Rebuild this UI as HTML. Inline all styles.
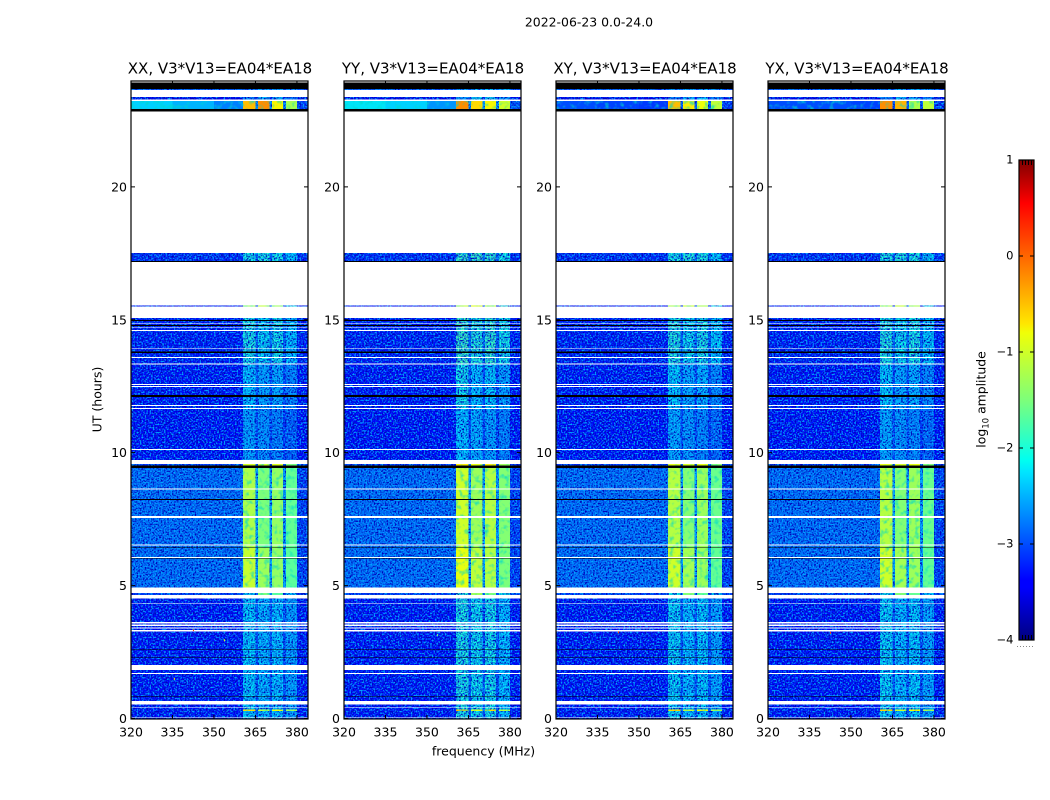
<!DOCTYPE html>
<html>
<head>
<meta charset="utf-8">
<title>2022-06-23 amplitude waterfall</title>
<style>
html,body{margin:0;padding:0;background:#fff;width:1050px;height:800px;overflow:hidden}
svg{display:block}
text{font-family:"DejaVu Sans","Liberation Sans",sans-serif;fill:#000}
</style>
</head>
<body>
<svg id="chart" xmlns="http://www.w3.org/2000/svg" width="1050" height="800" viewBox="0 0 1050 800">
<defs>
<filter id="speckle" x="0" y="0" width="1" height="1" color-interpolation-filters="sRGB">
<feTurbulence type="fractalNoise" baseFrequency="0.62" numOctaves="1" seed="4" result="n"/>
<feColorMatrix in="n" type="matrix" values="0 0 0 0 0  0 0 0 0 0  0 0 0 0 0.72  4 0 0 0 -1.7" result="darkNoise"/>
<feComposite in="darkNoise" in2="SourceAlpha" operator="in" result="dark"/>
<feColorMatrix in="n" type="matrix" values="0 0 0 0 0  0 0 0 0 0.66  0 0 0 0 1  0 4 0 0 -1.85" result="lightNoise"/>
<feComposite in="lightNoise" in2="SourceAlpha" operator="in" result="light"/>
<feMerge><feMergeNode in="SourceGraphic"/><feMergeNode in="dark"/><feMergeNode in="light"/></feMerge>
</filter>
<filter id="speckle-soft" x="0" y="0" width="1" height="1" color-interpolation-filters="sRGB">
<feTurbulence type="fractalNoise" baseFrequency="0.2" numOctaves="2" seed="9" result="n"/>
<feColorMatrix in="n" type="matrix" values="0 0 0 0 0  0 0 0 0 0.85  0 0 0 0 0.8  2.2 0 0 0 -1.1" result="softNoise"/>
<feComposite in="softNoise" in2="SourceAlpha" operator="in" result="soft"/>
<feMerge><feMergeNode in="SourceGraphic"/><feMergeNode in="soft"/></feMerge>
</filter>
<linearGradient id="jet-gradient" x1="0" y1="1" x2="0" y2="0">
<stop offset="0" stop-color="#00007f"/>
<stop offset="0.11" stop-color="#0000ff"/>
<stop offset="0.125" stop-color="#0000ff"/>
<stop offset="0.35" stop-color="#00e5ff"/>
<stop offset="0.375" stop-color="#00fff0"/>
<stop offset="0.5" stop-color="#7dff7a"/>
<stop offset="0.64" stop-color="#f0ff07"/>
<stop offset="0.66" stop-color="#ffe600"/>
<stop offset="0.89" stop-color="#ff1300"/>
<stop offset="0.91" stop-color="#ff0000"/>
<stop offset="1" stop-color="#7f0000"/>
</linearGradient>
</defs>
<text x="589" y="26.5" font-size="12.45" text-anchor="middle">2022-06-23 0.0-24.0</text>
<text x="483.5" y="755.5" font-size="12.5" text-anchor="middle">frequency (MHz)</text>
<text transform="translate(101.5,399.5) rotate(-90)" font-size="12.5" text-anchor="middle">UT (hours)</text>
<text transform="translate(985.5,399.5) rotate(-90)" font-size="12.4" text-anchor="middle">log<tspan font-size="8.6" dy="3">10</tspan><tspan dy="-3"> amplitude</tspan></text>
</svg>
<script>
// ---- chart data ----
const panelNames = ['XX', 'YY', 'XY', 'YX'];
const baselineLabel = 'V3*V13=EA04*EA18';
const xTicks = [320, 335, 350, 365, 380];
const yTicks = [0, 5, 10, 15, 20];
const colorbarTicks = [1, 0, -1, -2, -3, -4];
// frequency segment boundaries (MHz): quiet band, then four loud sub-bands with gaps
const freqEdges = [320, 360.5, 365, 366, 370, 371, 375, 376, 380, 384];
// log10 amplitude per frequency segment, one row per observing zone
const zoneSpectra = [
  null,
  [-2.9, -2.6, -2.9, -2.5, -2.9, -2.5, -2.9, -2.6, -3.0],
  [-3.5, -2.8, -3.3, -2.4, -3.3, -2.4, -3.3, -2.8, -3.5],
  null,
  [-3.2, -2.1, -2.9, -2.05, -2.9, -2.1, -2.9, -2.3, -3.2],
  [-3.4, -1.3, -3.2, -1.1, -3.2, -1.3, -3.2, -2.2, -3.4],
  [-3.3, -2.05, -2.9, -2.2, -2.8, -2.1, -2.9, -2.3, -3.3],
  [-3.35, -2.3, -3.0, -2.5, -3.05, -2.45, -3.05, -2.7, -3.35],
  [-3.4, -2.5, -3.05, -2.6, -3.05, -2.7, -3.15, -2.9, -3.4],
  [-3.1, -0.9, -2.8, -1.0, -2.8, -0.9, -2.8, -1.5, -3.1],
  [-2.8, -1.2, -2.45, -1.5, -2.45, -1.35, -2.5, -1.65, -3.1],
  [-2.8, -1.05, -2.45, -1.3, -2.45, -1.35, -2.5, -1.7, -3.1],
  [-3.35, -2.25, -3.0, -2.35, -3.0, -2.3, -3.0, -2.5, -3.35],
  [-3.3, -0.6, -2.9, -1.1, -2.9, -0.8, -2.9, -1.3, -3.3],
  [-3.1, -2.2, -2.9, -1.5, -2.9, -1.7, -3.0, -2.3, -3.1]
];
// top scan differs by polarisation
const topBandSpectra = [
  [-2.55, -0.45, -2.6, -0.2, -2.5, -0.75, -2.6, -1.25, -3.1],
  [-2.45, -0.2, -2.5, -0.6, -2.5, -0.75, -2.5, -1.0, -3.0],
  [-3.05, -0.45, -2.9, -0.7, -2.9, -0.8, -2.9, -1.1, -3.1],
  [-3.05, -0.2, -2.9, -0.4, -2.9, -1.2, -2.9, -1.1, -3.1]
];
// the quiet band of the top scan slopes with frequency
const topBandLowEdges = [320, 335, 350, 360.5];
const topBandLow = [
  [-2.35, -2.5, -2.75],
  [-2.25, -2.35, -2.65],
  [-3.0, -3.05, -3.1],
  [-3.0, -3.0, -3.05]
];
const panelColumnShift = [0, 0.2, 0.05, 0.05];
// UT scans: start hour, end hour, zone (zone 0 = flagged black; gaps are unobserved white)
const scanRows = [
  [23.70, 23.94, 0], [23.66, 23.70, 1], [23.31, 23.39, 2], [22.94, 23.25, 3], [22.85, 22.94, 0],
  [17.23, 17.53, 4], [17.19, 17.23, 0], [15.52, 15.56, 5],
  [15.01, 15.09, 6], [14.97, 15.01, 0], [14.87, 14.97, 6], [14.82, 14.85, 6], [14.78, 14.82, 0],
  [14.73, 14.78, 6], [14.63, 14.71, 6], [13.94, 14.60, 6], [13.82, 13.91, 6], [13.77, 13.82, 0],
  [13.62, 13.77, 6], [13.37, 13.58, 6], [12.60, 13.33, 7], [12.53, 12.56, 7], [12.19, 12.49, 7],
  [12.11, 12.19, 0], [11.81, 12.11, 7], [11.70, 11.77, 7], [10.16, 11.66, 8], [9.74, 10.12, 8],
  [9.53, 9.59, 9], [9.45, 9.53, 0], [8.68, 9.45, 10], [8.28, 8.63, 10], [8.24, 8.28, 0],
  [7.63, 8.24, 10], [6.57, 7.56, 10], [6.46, 6.53, 10], [6.43, 6.46, 0], [6.09, 6.43, 11],
  [6.03, 6.06, 0], [4.94, 6.03, 11], [4.66, 4.74, 14], [4.36, 4.54, 12], [3.64, 4.34, 12],
  [3.55, 3.60, 12], [3.45, 3.50, 12], [3.35, 3.41, 12], [2.62, 3.30, 12], [2.60, 2.62, 0],
  [2.32, 2.60, 12], [2.29, 2.32, 0], [2.03, 2.29, 12], [1.73, 1.84, 12], [0.87, 1.69, 12],
  [0.84, 0.87, 0], [0.68, 0.84, 12], [0.46, 0.54, 12], [0.36, 0.43, 12], [0.31, 0.36, 13],
  [0.06, 0.31, 12], [0, 0.03, 12]
];
// isolated interference spikes: panel, MHz, UT hours, log10 amplitude
const rfiSpikes = [
  [0, 342.4, 3.38, 0.3], [0, 353.6, 3.0, -0.8], [0, 335.5, 1.55, -0.7],
  [1, 353.6, 3.2, -1.4], [2, 342.4, 3.3, 0.2], [3, 342.4, 3.28, 0.2]
];

// ---- layout (not data) ----
const panelLeft = [131, 344, 556, 768];
const panelWidth = 177;
const axisTop = 81, axisBottom = 719;
const freqMin = 320, freqMax = 384, utMin = 0, utMax = 24;
const cbLeft = 1019, cbRight = 1034, cbTop = 160, cbBottom = 640;

const SVG_NS = 'http://www.w3.org/2000/svg';
const svg = document.getElementById('chart');

function make(tag, attrs, parent) {
  const el = document.createElementNS(SVG_NS, tag);
  for (const k in attrs) el.setAttribute(k, attrs[k]);
  parent.appendChild(el);
  return el;
}
function xScale(panel, mhz) {
  return panelLeft[panel] + (mhz - freqMin) / (freqMax - freqMin) * panelWidth;
}
function yScale(ut) {
  return axisBottom - (ut - utMin) / (utMax - utMin) * (axisBottom - axisTop);
}
function cbScale(v) {
  return cbBottom - (v + 4) / 5 * (cbBottom - cbTop);
}
function ramp(t, pts) {
  for (let i = 1; i < pts.length; i++) {
    if (t <= pts[i][0]) {
      const a = pts[i - 1], b = pts[i];
      return a[1] + (b[1] - a[1]) * (t - a[0]) / (b[0] - a[0]);
    }
  }
  return pts[pts.length - 1][1];
}
function jet(v) {
  const t = Math.max(0, Math.min(1, (v + 4) / 5));
  const r = ramp(t, [[0, 0], [0.35, 0], [0.66, 1], [0.89, 1], [1, 0.5]]);
  const g = ramp(t, [[0, 0], [0.125, 0], [0.375, 1], [0.64, 1], [0.91, 0], [1, 0]]);
  const b = ramp(t, [[0, 0.5], [0.11, 1], [0.34, 1], [0.65, 0], [1, 0]]);
  return 'rgb(' + Math.round(r * 255) + ',' + Math.round(g * 255) + ',' + Math.round(b * 255) + ')';
}

panelNames.forEach(function (name, p) {
  const panel = make('g', {}, svg);
  
  

  const noisy = make('g', { filter: 'url(#speckle)', 'shape-rendering': 'crispEdges' }, panel);
  
  
  const calm = make('g', { filter: 'url(#speckle-soft)', 'shape-rendering': 'crispEdges' }, panel);
  
  
  const blackRows = make('g', { 'shape-rendering': 'crispEdges' }, panel);
  
  

  scanRows.forEach(function (row) {
    const y0 = yScale(row[1]), y1 = yScale(row[0]);
    if (row[2] === 0) {
      const flagged = make('rect', { x: xScale(p, freqMin), y: y0, width: panelWidth, height: y1 - y0, fill: '#000' }, blackRows);
      
      
      return;
    }
    const spectrum = row[2] === 3 ? topBandSpectra[p] : zoneSpectra[row[2]];
    spectrum.forEach(function (val, s) {
      const v = (s % 2 === 1 && row[2] !== 3) ? val + panelColumnShift[p] : val;
      const x0 = xScale(p, freqEdges[s]), x1 = xScale(p, freqEdges[s + 1]);
      const isTopQuiet = row[2] === 3 && s === 0;
      if (isTopQuiet) return;
      const cell = make('rect', { x: x0, y: y0, width: x1 - x0, height: y1 - y0, fill: jet(v) }, v < -1.75 ? noisy : calm);
      
      
    });
    if (row[2] === 3) {
      topBandLow[p].forEach(function (v, s) {
        const x0 = xScale(p, topBandLowEdges[s]), x1 = xScale(p, topBandLowEdges[s + 1]);
        const cell = make('rect', { x: x0, y: y0, width: x1 - x0, height: y1 - y0, fill: jet(v) }, calm);
        
        
      });
    }
  });

  rfiSpikes.forEach(function (sp) {
    if (sp[0] !== p) return;
    const spike = make('rect', { x: xScale(p, sp[1]), y: yScale(sp[2]), width: 1, height: 2, fill: jet(sp[3]) }, panel);
    
    
  });

  const frame = make('rect', { x: panelLeft[p], y: axisTop, width: panelWidth, height: axisBottom - axisTop, fill: 'none', stroke: '#000', 'stroke-width': 1.2 }, panel);
  
  

  const title = make('text', { x: panelLeft[p] + panelWidth / 2 + 0.5, y: 73.5, 'font-size': 15, 'text-anchor': 'middle' }, panel);
  title.textContent = name + ', ' + baselineLabel;
  
  

  xTicks.forEach(function (t) {
    const x = xScale(p, t);
    const tickPath = make('path', { d: 'M' + x + ' ' + axisBottom + 'v-4M' + x + ' ' + axisTop + 'v4', stroke: '#000', 'stroke-width': 1, fill: 'none' }, panel);
    
    
    const label = make('text', { x: x, y: 736.5, 'font-size': 12.5, 'text-anchor': 'middle' }, panel);
    label.textContent = t;
    
    
  });
  yTicks.forEach(function (t) {
    const y = yScale(t) - 0.5;
    const l = panelLeft[p], r = l + panelWidth;
    const tickPath = make('path', { d: 'M' + l + ' ' + y + 'h4M' + r + ' ' + y + 'h-4', stroke: '#000', 'stroke-width': 1, fill: 'none' }, panel);
    
    
    const label = make('text', { x: l - 4, y: y + 4.5, 'font-size': 12.5, 'text-anchor': 'end' }, panel);
    label.textContent = t;
    
    
  });
});

// ---- colorbar ----
const colorbar = make('g', {}, svg);


const cbRect = make('rect', { x: cbLeft, y: cbTop, width: cbRight - cbLeft, height: cbBottom - cbTop, fill: 'url(#jet-gradient)', stroke: '#000', 'stroke-width': 1.2 }, colorbar);


colorbarTicks.forEach(function (t) {
  const y = cbScale(t);
  const tick = make('path', { d: 'M' + cbLeft + ' ' + y + 'h4M' + cbRight + ' ' + y + 'h-4', stroke: '#000', 'stroke-width': 1, fill: 'none' }, colorbar);
  
  
  const label = make('text', { x: 1013.5, y: y + 3.5, 'font-size': 11.5, 'text-anchor': 'end' }, colorbar);
  label.textContent = String(t).replace('-', '\u2212');
  
  
});
[cbTop, cbBottom - 5].forEach(function (y) {
  const minor = make('path', { d: 'M1022.5 ' + y + 'v5M1025.5 ' + y + 'v5M1028.5 ' + y + 'v5M1031.5 ' + y + 'v5', stroke: '#000', 'stroke-width': 1, fill: 'none' }, colorbar);
  
  
});
const dots = make('line', { x1: 1017, y1: 646.5, x2: 1035, y2: 646.5, stroke: '#888', 'stroke-width': 1, 'stroke-dasharray': '1 2' }, colorbar);


</script>
</body>
</html>
